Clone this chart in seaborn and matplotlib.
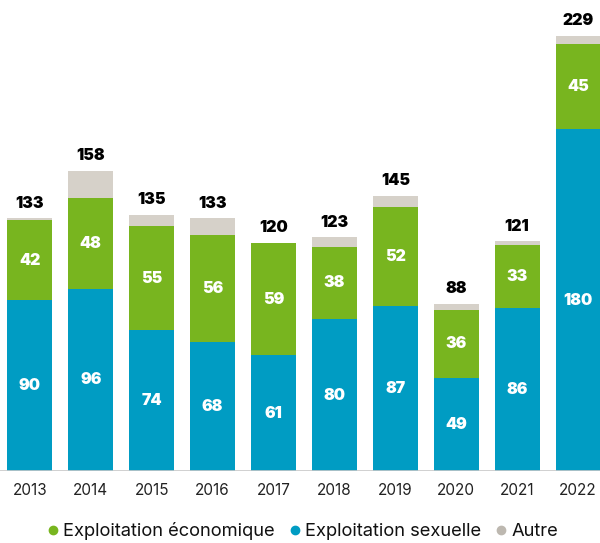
import numpy as np
import pandas as pd
import matplotlib
matplotlib.use("Agg")
import matplotlib.pyplot as plt
import seaborn as sns
from matplotlib.lines import Line2D

years = ["2013", "2014", "2015", "2016", "2017", "2018", "2019", "2020", "2021", "2022"]
sexuelle = [90, 96, 74, 68, 61, 80, 87, 49, 86, 180]
economique = [42, 48, 55, 56, 59, 38, 52, 36, 33, 45]
totals = [133, 158, 135, 133, 120, 123, 145, 88, 121, 229]

c_blue = "#009CC3"
c_green = "#78B51F"
c_grey = "#D6D1C9"

sns.set_style("white")
plt.rcParams['font.family'] = ['Inter', 'DejaVu Sans']

df = pd.DataFrame({"year": years, "sex": sexuelle, "eco": economique, "tot": totals})
df["sex_eco"] = df["sex"] + df["eco"]

fig = plt.figure(figsize=(6, 5.43), dpi=100)
ax = fig.add_axes([0, 0.1326, 1, 0.8674])

for col, c in [("tot", c_grey), ("sex_eco", c_green), ("sex", c_blue)]:
    sns.barplot(data=df, x="year", y=col, color=c, width=0.74, saturation=1,
                linewidth=0, ax=ax)

for i in range(len(years)):
    ax.text(i, sexuelle[i] / 2, str(sexuelle[i]), ha="center", va="center",
            color="white", fontsize=11.5, fontweight="black")
    ax.text(i, sexuelle[i] + economique[i] / 2, str(economique[i]), ha="center", va="center",
            color="white", fontsize=11.5, fontweight="black")
    ax.text(i, totals[i] + 4, str(totals[i]), ha="center", va="bottom",
            color="black", fontsize=11.5, fontweight="black")

ax.set_xlim(-0.49, 9.36)
ax.set_ylim(0, 248)
ax.axhline(0, color="#C8C8C8", lw=1.2)
for s in ax.spines.values():
    s.set_visible(False)
ax.set_yticks([])
ax.set_xlabel("")
ax.set_ylabel("")
ax.tick_params(axis="x", length=0, pad=9, labelsize=11, labelcolor="#222222")

handles = [Line2D([], [], marker="o", ls="", color=c, markersize=6)
           for c in [c_green, c_blue, "#BDB8B0"]]
fig.legend(handles, ["Exploitation économique", "Exploitation sexuelle", "Autre"],
           loc="center", bbox_to_anchor=(0.505, 0.022), ncol=3, frameon=False,
           fontsize=13.2, handlelength=0.6, handletextpad=0.25, columnspacing=0.8,
           labelcolor="#111111")

fig.savefig("out.png", dpi=100)
